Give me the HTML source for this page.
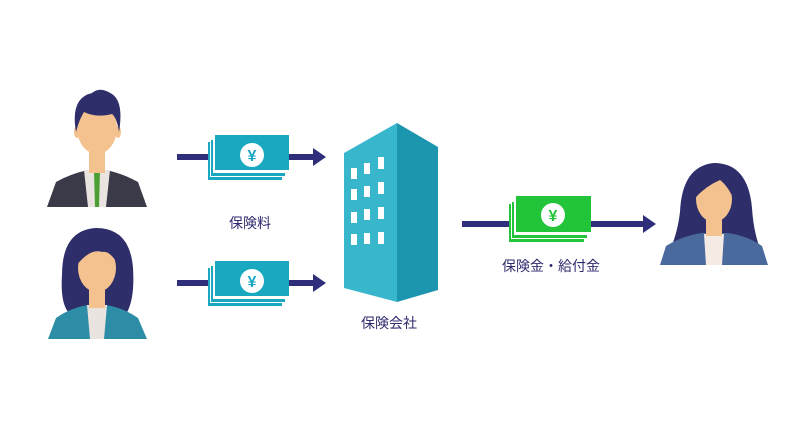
<!DOCTYPE html>
<html><head><meta charset="utf-8"><style>
html,body{margin:0;padding:0;background:#fff}
svg{display:block}
text{font-family:"Liberation Sans","Noto Sans CJK JP",sans-serif;fill:#2e2a6e}
</style></head><body>
<svg width="800" height="439" viewBox="0 0 800 439" xmlns="http://www.w3.org/2000/svg">
<rect width="800" height="439" fill="#fff"/>
<!-- man -->
<g>
<path d="M47 207 L56 182 Q70 174 88 170 L106 170 Q124 174 138 182 L147 207 Z" fill="#3a3a48"/>
<path d="M84 170 L110 170 L106 207 L88 207 Z" fill="#e9e4e0"/>
<path d="M94 172 L100 172 L99 207 L95 207 Z" fill="#4ca033"/>
<rect x="89" y="140" width="16" height="33" fill="#f4c28f"/>
<ellipse cx="97" cy="128" rx="20" ry="26" fill="#f4c28f"/>
<ellipse cx="77" cy="132" rx="3" ry="6" fill="#f4c28f"/>
<ellipse cx="118" cy="132" rx="3" ry="6" fill="#f4c28f"/>
<path d="M76 132 Q70 98 92 93 Q100 86 112 94 Q124 102 119 132 Q117 118 112 114 Q96 118 84 112 Q79 120 76 132 Z" fill="#2e2e6a"/>
</g>
<!-- woman left -->
<g>
<path d="M96 228 Q62 230 62 275 Q60 305 70 314 L126 314 Q135 300 133 268 Q130 228 96 228 Z" fill="#2e2e6a"/>
<path d="M48 339 L56 318 Q70 308 88 305 L106 305 Q124 308 138 318 L147 339 Z" fill="#2e8da6"/>
<path d="M87 305 L107 305 L104 339 L90 339 Z" fill="#e9e4e0"/>
<rect x="89" y="280" width="16" height="28" fill="#f4c28f"/>
<ellipse cx="97" cy="268" rx="19" ry="24" fill="#f4c28f"/>
<path d="M76 266 Q80 240 100 240 Q114 244 119 266 Q110 250 102 252 Q90 248 76 266 Z" fill="#2e2e6a"/>
</g>
<!-- arrows -->
<g fill="#2e2e7a">
<rect x="177" y="154" width="140" height="6"/><path d="M313 148 L326 157 L313 166 Z"/>
<rect x="177" y="280" width="140" height="6"/><path d="M313 274 L326 283 L313 292 Z"/>
<rect x="462" y="221" width="185" height="6"/><path d="M643 215 L656 224 L643 233 Z"/>
</g>
<!-- bills top -->
<g>
<rect x="208" y="142" width="74" height="38" fill="#1aa8c0"/>
<rect x="210" y="141" width="74" height="36" fill="#fff"/>
<rect x="211" y="140" width="74" height="36" fill="#1aa8c0"/>
<rect x="213" y="138" width="74" height="35" fill="#fff"/>
<rect x="215" y="135" width="74" height="35" fill="#1aa8c0"/>
<circle cx="252" cy="155" r="12" fill="#fff"/>
<text x="252" y="161" text-anchor="middle" font-size="16" font-weight="bold" style="fill:#1aa8c0">¥</text>
</g>
<g>
<rect x="208" y="268" width="74" height="38" fill="#1aa8c0"/>
<rect x="210" y="267" width="74" height="36" fill="#fff"/>
<rect x="211" y="266" width="74" height="36" fill="#1aa8c0"/>
<rect x="213" y="264" width="74" height="35" fill="#fff"/>
<rect x="215" y="261" width="74" height="35" fill="#1aa8c0"/>
<circle cx="252" cy="281" r="12" fill="#fff"/>
<text x="252" y="287" text-anchor="middle" font-size="16" font-weight="bold" style="fill:#1aa8c0">¥</text>
</g>
<!-- green bills -->
<g>
<rect x="509" y="204" width="75" height="38" fill="#22c43a"/>
<rect x="511" y="203" width="75" height="36" fill="#fff"/>
<rect x="512" y="202" width="75" height="36" fill="#22c43a"/>
<rect x="514" y="200" width="75" height="35" fill="#fff"/>
<rect x="516" y="196" width="75" height="36" fill="#22c43a"/>
<circle cx="553" cy="215" r="12" fill="#fff"/>
<text x="553" y="221" text-anchor="middle" font-size="16" font-weight="bold" style="fill:#22c43a">¥</text>
</g>
<!-- building -->
<polygon points="344,153 397,123 397,302 344,288" fill="#38b6cc"/>
<polygon points="397,123 438,147 438,290 397,302" fill="#1b96ae"/>
<g fill="#fff">
<rect x="351" y="168" width="6" height="11"/><rect x="364" y="163" width="6" height="11"/><rect x="378" y="157" width="6" height="12"/>
<rect x="351" y="189" width="6" height="11"/><rect x="364" y="186" width="6" height="11"/><rect x="378" y="182" width="6" height="12"/>
<rect x="351" y="212" width="6" height="11"/><rect x="364" y="209" width="6" height="11"/><rect x="378" y="207" width="6" height="12"/>
<rect x="351" y="234" width="6" height="11"/><rect x="364" y="233" width="6" height="11"/><rect x="378" y="232" width="6" height="12"/>
</g>
<!-- woman right -->
<g>
<path d="M714 163 Q682 166 680 212 Q676 245 662 262 L766 262 Q754 240 752 208 Q748 163 714 163 Z" fill="#2e2e6a"/>
<path d="M660 265 L666 246 Q682 236 702 233 L728 233 Q748 236 762 246 L768 265 Z" fill="#4a6a9e"/>
<path d="M704 234 L724 234 L722 265 L706 265 Z" fill="#f3ebe4"/>
<rect x="706" y="210" width="16" height="26" fill="#f4c28f"/>
<ellipse cx="714" cy="199" rx="18" ry="23" fill="#f4c28f"/>
<path d="M695 198 Q696 172 716 173 Q736 176 734 200 Q728 186 720 180 Q706 186 695 198 Z" fill="#2e2e6a"/>
</g>
<!-- labels -->
<text x="250" y="228" text-anchor="middle" font-size="14">保険料</text>
<text x="389" y="328" text-anchor="middle" font-size="14">保険会社</text>
<text x="551" y="271" text-anchor="middle" font-size="14">保険金・給付金</text>
</svg>
</body></html>
